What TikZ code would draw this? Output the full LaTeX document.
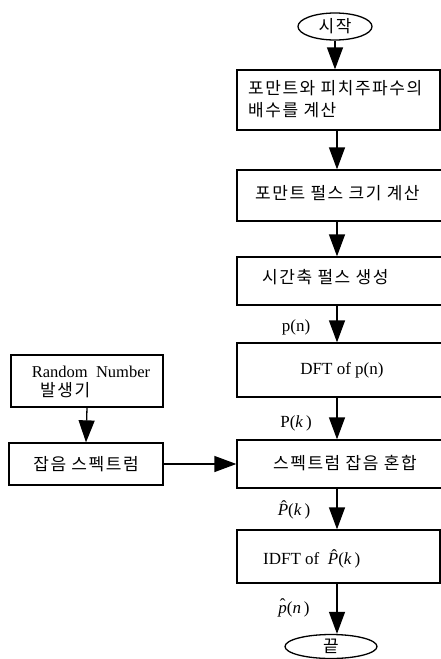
\documentclass[tikz,border=0pt]{standalone}
\usepackage{fontspec}
\setmainfont{Liberation Serif}
\newfontfamily\kr[LetterSpace=9]{Noto Sans CJK KR}
\usetikzlibrary{arrows.meta,shapes.geometric}
\newcommand{\hatit}[2]{\leavevmode\setbox0\hbox{\textit{#1}}\rlap{\hbox to \wd0{\hss\hspace{#2}\raisebox{0.2em}{\char"02C6}\hss}}\box0}
\newcommand{\Phat}{\hatit{P}{0.12em}(\textit{k}\,)}
\newcommand{\phat}{\hatit{p}{0.0em}(\textit{n}\,)}
\begin{document}
\begin{tikzpicture}[x=1pt,y=-1pt,
  box/.style={draw, line width=1.3pt, rectangle, inner sep=0pt},
  oval/.style={draw, ellipse, line width=1.3pt, inner sep=0pt},
  arr/.style={line width=1.3pt, -{Triangle[length=22pt,width=16pt]}},
  kt/.style={font=\kr\fontsize{17}{22}\selectfont, inner sep=0pt, align=left},
  lt/.style={font=\fontsize{17}{20}\selectfont, inner sep=0pt}]
\useasboundingbox (0,0) rectangle (441,659);
\coordinate (ax) at (337,0);
% main column
\node[oval, minimum width=74pt, minimum height=27pt, kt] (start) at (335,26.5) {시작};
\node[box, minimum width=203pt, minimum height=60pt] (b1) at (338.5,100) {};
\node[kt, anchor=west] (t1) at (248,99) {포만트와 피치주파수의\\배수를 계산};
\node[box, minimum width=210pt, minimum height=51pt] (b2) at (342,195.5) {};
\node[kt, anchor=west] (t2) at (255,193) {포만트 펄스 크기 계산};
\node[box, minimum width=210pt, minimum height=48pt] (b3) at (342,281) {};
\node[kt, anchor=west] (t3) at (262,277) {시간축 펄스 생성};
\node[box, minimum width=210pt, minimum height=54pt] (b4) at (342,370) {};
\node[lt] (t4) at (342,370) {DFT of p(n)};
\node[box, minimum width=210pt, minimum height=48pt] (b5) at (342,464) {};
\node[kt, anchor=west] (t5) at (273,463) {스펙트럼 잡음 혼합};
\node[box, minimum width=203pt, minimum height=53pt] (b6) at (338.5,556.5) {};
\node[lt, anchor=west] (t6) at (263,559) {IDFT of \ \Phat};
\node[oval, minimum width=92pt, minimum height=24pt, kt] (end) at (331,646.5) {끝};
% left column
\node[box, minimum width=152pt, minimum height=52pt] (rn) at (87,381) {};
\node[lt, font=\fontsize{16.5}{20}\selectfont] (trn) at (91,372) {Random \ Number};
\node[kt, anchor=west] (trn2) at (40,390) {발생기};
\node[box, minimum width=154pt, minimum height=42pt] (noise) at (86,464) {};
\node[kt] (tn) at (86,464) {잡음 스펙트럼};
% arrows
\draw[arr] (start.south) -- (start.south |- b1.north);
\draw[arr] (b1.south -| ax) -- (b2.north -| ax);
\draw[arr] (b2.south -| ax) -- (b3.north -| ax);
\draw[arr] (b3.south -| ax) -- (b4.north -| ax);
\draw[arr] (b4.south -| ax) -- (b5.north -| ax);
\draw[arr] (b5.south -| ax) -- (b6.north -| ax);
\draw[arr] (b6.south -| ax) -- (ax |- end.north);
\draw[arr] (rn.south) -- (noise.north);
\draw[arr] (noise.east) -- (noise.east -| b5.west);
% signal labels
\node[lt] (lp) at (296,327) {p(n)};
\node[lt] (lP) at (296,423) {P(\textit{k}\,)};
\node[lt] (lPh) at (294,510) {\Phat};
\node[lt] (lph) at (294,608) {\phat};
\end{tikzpicture}
\end{document}
